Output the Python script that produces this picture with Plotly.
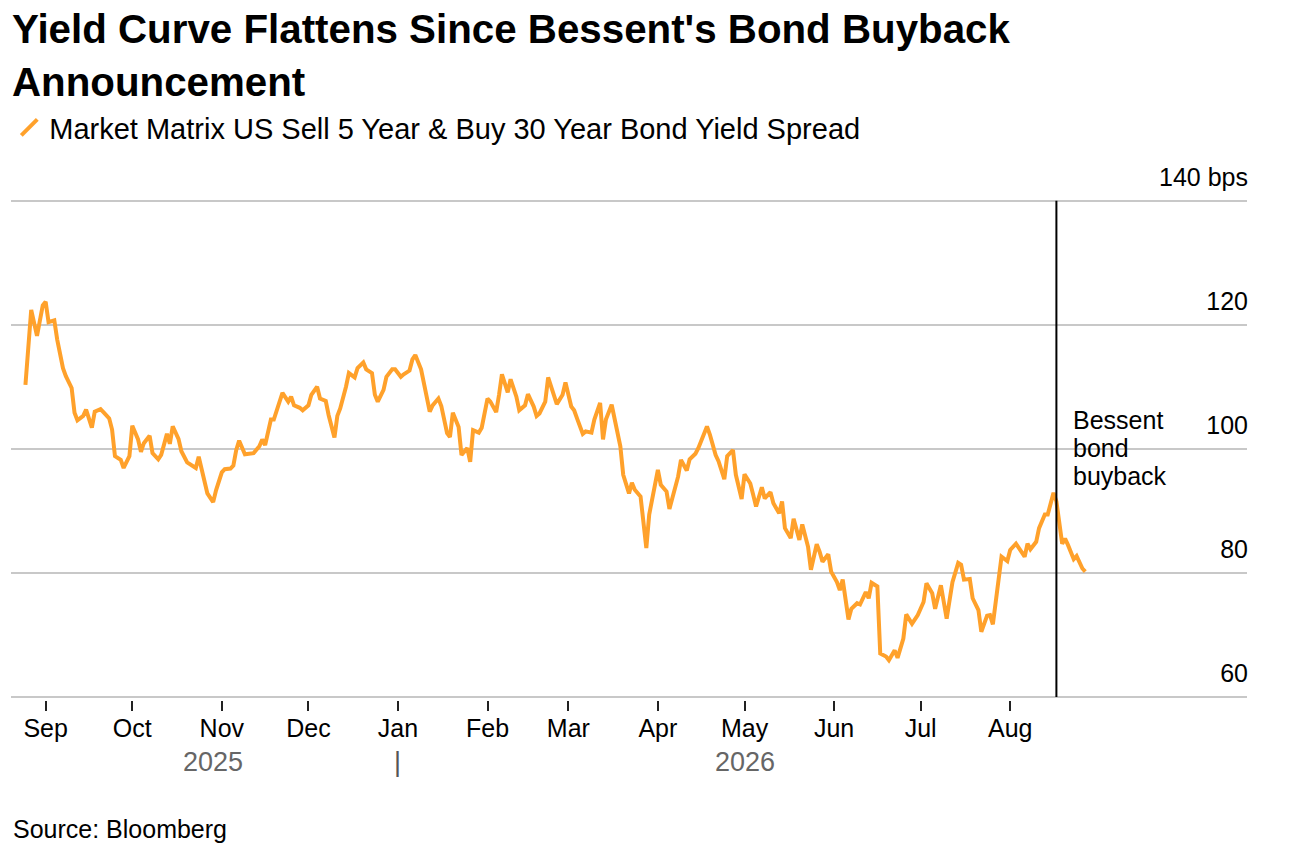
import plotly.graph_objects as go

dates = [
    "2025-08-25", "2025-08-27", "2025-08-29", "2025-08-31", "2025-09-01", "2025-09-02",
    "2025-09-04", "2025-09-05", "2025-09-07", "2025-09-08", "2025-09-10", "2025-09-11",
    "2025-09-12", "2025-09-14", "2025-09-15", "2025-09-17", "2025-09-18", "2025-09-20",
    "2025-09-21", "2025-09-23", "2025-09-24", "2025-09-25", "2025-09-27", "2025-09-28",
    "2025-09-30", "2025-10-01", "2025-10-03", "2025-10-04", "2025-10-05", "2025-10-07",
    "2025-10-08", "2025-10-10", "2025-10-11", "2025-10-13", "2025-10-14", "2025-10-15",
    "2025-10-17", "2025-10-18", "2025-10-20", "2025-10-21", "2025-10-23", "2025-10-24",
    "2025-10-26", "2025-10-27", "2025-10-29", "2025-10-30", "2025-11-01", "2025-11-02",
    "2025-11-04", "2025-11-05", "2025-11-06", "2025-11-07", "2025-11-09", "2025-11-11",
    "2025-11-12", "2025-11-14", "2025-11-15", "2025-11-16", "2025-11-18", "2025-11-19",
    "2025-11-21", "2025-11-22", "2025-11-24", "2025-11-25", "2025-11-26", "2025-11-28",
    "2025-11-29", "2025-12-01", "2025-12-02", "2025-12-04", "2025-12-05", "2025-12-07",
    "2025-12-08", "2025-12-10", "2025-12-11", "2025-12-12", "2025-12-14", "2025-12-15",
    "2025-12-17", "2025-12-18", "2025-12-20", "2025-12-21", "2025-12-23", "2025-12-24",
    "2025-12-25", "2025-12-27", "2025-12-28", "2025-12-30", "2025-12-31", "2026-01-02",
    "2026-01-03", "2026-01-05", "2026-01-06", "2026-01-07", "2026-01-09", "2026-01-10",
    "2026-01-12", "2026-01-13", "2026-01-15", "2026-01-16", "2026-01-18", "2026-01-19",
    "2026-01-20", "2026-01-22", "2026-01-23", "2026-01-25", "2026-01-26", "2026-01-27",
    "2026-01-29", "2026-01-30", "2026-02-01", "2026-02-02", "2026-02-04", "2026-02-05",
    "2026-02-06", "2026-02-08", "2026-02-09", "2026-02-11", "2026-02-12", "2026-02-14",
    "2026-02-15", "2026-02-17", "2026-02-18", "2026-02-19", "2026-02-21", "2026-02-22",
    "2026-02-24", "2026-02-25", "2026-02-27", "2026-02-28", "2026-03-02", "2026-03-03",
    "2026-03-04", "2026-03-06", "2026-03-07", "2026-03-09", "2026-03-10", "2026-03-12",
    "2026-03-13", "2026-03-14", "2026-03-16", "2026-03-17", "2026-03-19", "2026-03-20",
    "2026-03-22", "2026-03-23", "2026-03-24", "2026-03-26", "2026-03-28", "2026-03-29",
    "2026-03-30", "2026-04-01", "2026-04-02", "2026-04-04", "2026-04-05", "2026-04-07",
    "2026-04-08", "2026-04-09", "2026-04-11", "2026-04-12", "2026-04-14", "2026-04-15",
    "2026-04-16", "2026-04-18", "2026-04-19", "2026-04-21", "2026-04-22", "2026-04-24",
    "2026-04-25", "2026-04-27", "2026-04-28", "2026-04-30", "2026-05-01", "2026-05-03",
    "2026-05-04", "2026-05-05", "2026-05-07", "2026-05-08", "2026-05-10", "2026-05-11",
    "2026-05-13", "2026-05-14", "2026-05-15", "2026-05-17", "2026-05-18", "2026-05-20",
    "2026-05-21", "2026-05-23", "2026-05-24", "2026-05-26", "2026-05-27", "2026-05-28",
    "2026-05-30", "2026-05-31", "2026-06-02", "2026-06-03", "2026-06-04", "2026-06-06",
    "2026-06-07", "2026-06-09", "2026-06-10", "2026-06-12", "2026-06-13", "2026-06-14",
    "2026-06-16", "2026-06-17", "2026-06-19", "2026-06-20", "2026-06-22", "2026-06-23",
    "2026-06-25", "2026-06-26", "2026-06-28", "2026-06-29", "2026-06-30", "2026-07-02",
    "2026-07-03", "2026-07-05", "2026-07-06", "2026-07-08", "2026-07-09", "2026-07-10",
    "2026-07-12", "2026-07-14", "2026-07-15", "2026-07-16", "2026-07-18", "2026-07-19",
    "2026-07-21", "2026-07-22", "2026-07-24", "2026-07-25", "2026-07-26", "2026-07-28",
    "2026-07-29", "2026-07-31", "2026-08-01", "2026-08-03", "2026-08-04", "2026-08-06",
    "2026-08-07", "2026-08-08", "2026-08-10", "2026-08-11", "2026-08-13", "2026-08-14",
    "2026-08-16", "2026-08-17", "2026-08-19", "2026-08-20", "2026-08-21", "2026-08-23",
    "2026-08-24", "2026-08-26", "2026-08-27",
]

spread_bps = [
    110.3, 122.4, 118.2, 123.1, 123.7, 120.4,
    120.7, 117.6, 113.0, 111.7, 109.8, 105.8,
    104.6, 105.3, 106.3, 103.4, 106.0, 106.4,
    105.9, 104.9, 103.1, 98.8, 98.2, 96.9,
    98.8, 103.7, 101.5, 99.5, 100.9, 102.1,
    99.3, 98.3, 99.0, 102.4, 100.8, 103.6,
    101.6, 99.6, 97.8, 97.5, 96.9, 98.7,
    95.0, 92.8, 91.4, 93.3, 96.2, 96.7,
    96.8, 97.3, 99.8, 101.3, 99.1, 99.2,
    99.3, 100.4, 101.5, 100.6, 104.7, 104.7,
    107.6, 109.0, 107.6, 108.4, 107.0, 106.6,
    106.2, 107.0, 108.7, 110.0, 108.1, 107.7,
    105.4, 101.8, 105.3, 106.5, 110.0, 112.2,
    111.5, 113.0, 113.9, 112.8, 112.2, 108.7,
    107.6, 109.5, 111.6, 112.8, 112.8, 111.6,
    112.0, 112.6, 114.4, 115.1, 112.8, 110.6,
    106.0, 107.0, 108.1, 106.9, 102.5, 101.9,
    105.8, 103.5, 99.0, 100.1, 97.9, 103.0,
    102.6, 103.4, 108.1, 107.6, 105.9, 108.7,
    112.0, 109.1, 111.2, 108.4, 106.2, 107.0,
    108.8, 106.8, 105.3, 105.7, 107.6, 111.5,
    108.7, 107.2, 108.7, 110.7, 106.8, 106.2,
    104.9, 102.4, 102.8, 102.6, 104.7, 107.4,
    101.5, 104.7, 107.1, 104.9, 100.4, 95.8,
    92.8, 94.5, 93.4, 92.3, 84.0, 89.4,
    92.0, 96.6, 94.2, 93.1, 90.3, 93.9,
    95.5, 98.2, 96.5, 98.3, 99.2, 100.1,
    101.2, 103.6, 102.3, 99.0, 98.0, 95.1,
    98.8, 99.8, 95.8, 91.9, 95.9, 94.4,
    92.6, 90.7, 93.8, 92.0, 93.0, 91.2,
    89.6, 91.5, 87.2, 85.6, 88.7, 85.3,
    87.8, 84.2, 80.5, 84.6, 83.4, 81.8,
    83.0, 80.2, 78.5, 77.2, 78.9, 72.5,
    74.2, 75.1, 74.9, 76.9, 75.9, 78.4,
    77.8, 67.0, 66.5, 65.9, 67.5, 66.3,
    69.4, 73.3, 71.8, 72.4, 73.2, 75.3,
    78.3, 76.7, 74.2, 78.0, 75.1, 72.6,
    78.5, 81.6, 81.3, 78.9, 79.0, 75.9,
    74.0, 70.5, 73.1, 73.2, 71.7, 79.1,
    82.6, 81.9, 83.7, 84.7, 83.9, 82.6,
    84.7, 83.8, 85.0, 87.2, 89.4, 89.4,
    92.9, 91.5, 84.7, 85.5, 84.5, 82.2,
    82.7, 80.7, 80.2,
]

month_ticks = ["2025-09-01", "2025-10-01", "2025-11-01", "2025-12-01", "2026-01-01",
               "2026-02-01", "2026-03-01", "2026-04-01", "2026-05-01", "2026-06-01",
               "2026-07-01", "2026-08-01"]
month_labels = ["Sep", "Oct", "Nov", "Dec", "Jan", "Feb", "Mar", "Apr", "May", "Jun",
                "Jul", "Aug"]
y_ticks = [60, 80, 100, 120, 140]
y_labels = ["60", "80", "100", "120", "140 bps"]
x_range = ["2025-08-20", "2026-10-22"]
y_range = [59.5, 148]
buyback_date = "2026-08-17"
series_name = "Market Matrix US Sell 5 Year & Buy 30 Year Bond Yield Spread"

ORANGE = "#FFA12B"
FONT = "Liberation Sans, Arial, sans-serif"

# plot area: bottom at 700.1 px, 6.2 px per bp
PLOT_H = (y_range[1] - y_range[0]) * 6.2

def py(page_y):
    return (700.1 - page_y) / PLOT_H

fig = go.Figure()
fig.add_trace(go.Scatter(
    x=dates, y=spread_bps, mode="lines",
    line=dict(color=ORANGE, width=4),
    showlegend=False, hoverinfo="x+y",
))
# legend-only entry with a slash glyph
fig.add_trace(go.Scatter(
    x=[None], y=[None], mode="markers", name=series_name,
    marker=dict(symbol="line-ne-open", size=16, color=ORANGE,
                line=dict(color=ORANGE, width=4)),
))

fig.add_shape(type="line", xref="x", yref="y", x0=buyback_date, x1=buyback_date,
              y0=60, y1=140, line=dict(color="#000000", width=2))

for txt, yv in [("Bessent", 104.6), ("bond", 100.1), ("buyback", 95.6)]:
    fig.add_annotation(x=buyback_date, xref="x", y=yv, yref="y", text=txt,
                       showarrow=False, xanchor="left", yanchor="middle", xshift=15,
                       font=dict(family=FONT, size=25, color="#000000"))

for txt, xv in [("2025", "2025-10-29"), ("2026", "2026-05-01")]:
    fig.add_annotation(x=xv, xref="x", y=py(762), yref="paper", text=txt,
                       showarrow=False, xanchor="center", yanchor="middle",
                       font=dict(family=FONT, size=27, color="#666666"))
fig.add_annotation(x="2026-01-01", xref="x", y=py(762), yref="paper", text="|",
                   showarrow=False, xanchor="center", yanchor="middle",
                   font=dict(family=FONT, size=27, color="#555555"))

fig.add_annotation(x=0.0, xref="paper", y=py(829.5), yref="paper",
                   text="Source: Bloomberg", showarrow=False,
                   xanchor="left", yanchor="middle",
                   font=dict(family=FONT, size=25, color="#000000"))

fig.update_layout(
    width=1288, height=842,
    margin=dict(l=3, r=49.3, t=692.1 - PLOT_H, b=149.9, autoexpand=False),
    paper_bgcolor="white", plot_bgcolor="white",
    font=dict(family=FONT, size=25, color="#000000"),
    title=dict(
        text="Yield Curve Flattens Since Bessent's Bond Buyback<br>Announcement",
        x=4 / 1288, xanchor="left", xref="container",
        y=0.958, yanchor="top", yref="container",
        font=dict(family=FONT, size=40.3, color="#000000", weight="bold"),
    ),
    showlegend=True,
    legend=dict(
        orientation="h", x=-0.0014, xanchor="left", y=py(128), yanchor="middle",
        font=dict(family=FONT, size=29, color="#000000"),
        bgcolor="rgba(0,0,0,0)", itemsizing="trace",
    ),
    xaxis=dict(
        type="date", range=x_range,
        tickvals=month_ticks, ticktext=month_labels,
        showgrid=False, zeroline=False, showline=False,
        ticks="outside", ticklen=10, tickwidth=1.5, tickcolor="#222222",
        ticklabelstandoff=-4,
        tickfont=dict(family=FONT, size=25, color="#000000"),
    ),
    yaxis=dict(
        range=y_range, side="right",
        tickvals=y_ticks, ticktext=y_labels,
        showgrid=True, gridcolor="#C8C8C8", gridwidth=1.5,
        zeroline=False, showline=False, ticks="",
        ticklabelposition="inside top", ticklabelshift=-6, ticklabelstandoff=-4,
        tickfont=dict(family=FONT, size=25, color="#000000"),
    ),
)

fig.write_html("out.html")
